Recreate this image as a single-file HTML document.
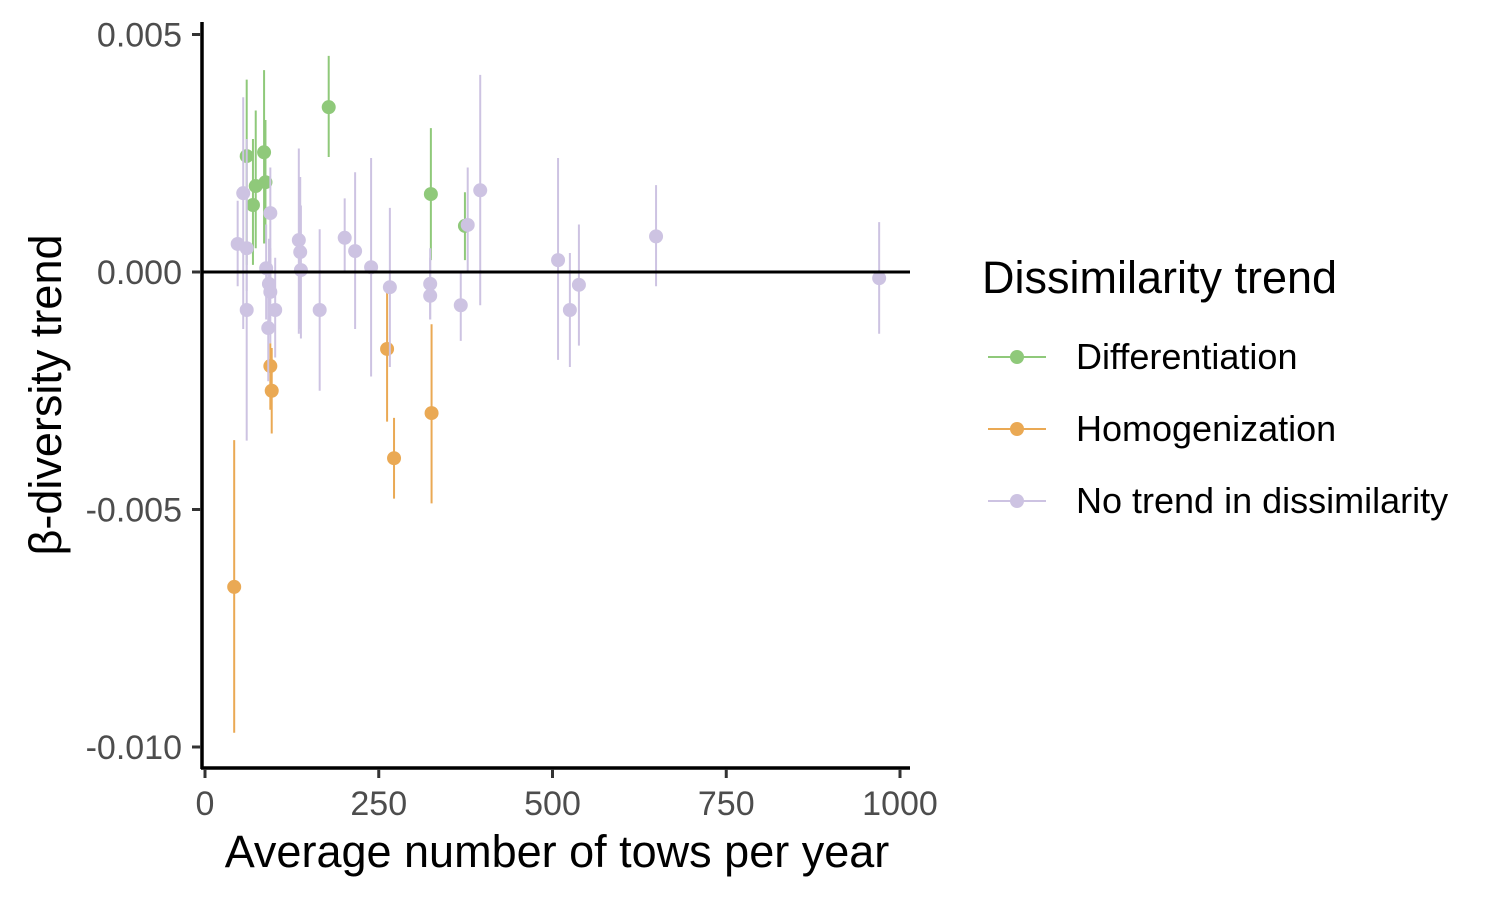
<!DOCTYPE html>
<html><head><meta charset="utf-8"><style>
body{margin:0;background:#fff;}
svg{display:block;font-family:"Liberation Sans",sans-serif;}
</style></head><body>
<svg id="chart" width="1500" height="900">
<g id="marks"></g>
<line x1="202" y1="272" x2="910" y2="272" stroke="#000" stroke-width="3"/>
<line x1="202" y1="22" x2="202" y2="769" stroke="#000" stroke-width="3.5"/>
<line x1="201" y1="768" x2="910" y2="768" stroke="#000" stroke-width="3.5"/>
<g id="yticks"></g>
<g id="xticks"></g>
<text x="557" y="867" font-size="45" text-anchor="middle" fill="#000">Average number of tows per year</text>
<text transform="translate(61,395) rotate(-90)" font-size="45" text-anchor="middle" fill="#000">β-diversity trend</text>
<g>
<text x="982" y="293" font-size="45" fill="#000">Dissimilarity trend</text>
<g><line x1="988" y1="357" x2="1046" y2="357" stroke="#8fc97a" stroke-width="2"/><circle cx="1017" cy="357" r="7" fill="#8fc97a"/><text x="1076" y="369" font-size="36">Differentiation</text></g>
<g><line x1="988" y1="429" x2="1046" y2="429" stroke="#eaa954" stroke-width="2"/><circle cx="1017" cy="429" r="7" fill="#eaa954"/><text x="1076" y="441" font-size="36">Homogenization</text></g>
<g><line x1="988" y1="501" x2="1046" y2="501" stroke="#cdc3e2" stroke-width="2"/><circle cx="1017" cy="501" r="7" fill="#cdc3e2"/><text x="1076" y="513" font-size="36">No trend in dissimilarity</text></g>
</g>
</svg>
<script>
// values in units of 1e-3
const diffX=[60,85,87,69,73,178,325,374];
const diffY=[2.44,2.52,1.89,1.41,1.81,3.47,1.64,0.97];
const diffLo=[0.15,0.6,0.6,0.15,0.5,2.42,0.25,0.25];
const diffHi=[4.05,4.25,3.2,2.8,3.4,4.55,3.03,1.68];
const homX=[42,94,96,262,272,326];
const homY=[-6.63,-1.98,-2.5,-1.62,-3.92,-2.97];
const homLo=[-9.7,-2.9,-3.4,-3.15,-4.77,-4.87];
const homHi=[-3.54,-1.5,-1.6,-0.4,-3.07,-1.1];
const noX=[55,47,60,60,94,88,92,94,91,101,135,137,138,165,201,216,239,266,324,324,368,378,396,508,525,538,649,970];
const noY=[1.66,0.59,0.5,-0.8,1.24,0.08,-0.25,-0.42,-1.18,-0.8,0.67,0.42,0.04,-0.8,0.72,0.44,0.1,-0.32,-0.25,-0.5,-0.7,0.99,1.72,0.25,-0.8,-0.27,0.75,-0.13];
const noLo=[-1.2,-0.3,-0.4,-3.55,-0.4,-1.0,-1.2,-1.5,-2.3,-1.8,-1.3,-1.2,-1.4,-2.5,0,-1.2,-2.2,-2.0,-1.0,-1.0,-1.45,0.0,-0.7,-1.85,-2.0,-1.55,-0.3,-1.3];
const noHi=[3.68,1.5,2.8,0.5,2.2,1.0,0.7,0.5,0.2,0.3,2.6,2.0,1.4,0.9,1.55,2.1,2.4,1.35,0.5,0.3,0,2.2,4.15,2.4,0.4,1.0,1.83,1.05];
const yTicks=[5,0,-5,-10];
const yTickLabels=["0.005","0.000","-0.005","-0.010"];
const xTicks=[0,250,500,750,1000];
const xTickLabels=["0","250","500","750","1000"];
const sx=v=>205+v*0.695;
const sy=v=>272-v*47.5;
const NS="http://www.w3.org/2000/svg";
function mk(tag,attrs,parent){const e=document.createElementNS(NS,tag);for(const k in attrs)e.setAttribute(k,attrs[k]);parent.appendChild(e);return e;}
const marks=document.getElementById('marks');
function series(X,Y,L,H,col,name){
  for(let i=0;i<X.length;i++){
    const l=mk('line',{x1:sx(X[i]),x2:sx(X[i]),y1:sy(L[i]),y2:sy(H[i]),stroke:col,'stroke-width':2},marks);
    
    
  }
  for(let i=0;i<X.length;i++){
    const c=mk('circle',{cx:sx(X[i]),cy:sy(Y[i]),r:7,fill:col},marks);
    
    
  }
}
series(diffX,diffY,diffLo,diffHi,'#8fc97a','differentiation');
series(homX,homY,homLo,homHi,'#eaa954','homogenization');
series(noX,noY,noLo,noHi,'#cdc3e2','no-trend');
const yt=document.getElementById('yticks');
yTicks.forEach((v,i)=>{
  const l=mk('line',{x1:192,x2:201,y1:sy(v),y2:sy(v),stroke:'#333','stroke-width':3},yt);
  
  
  const t=mk('text',{x:182,y:sy(v)+12,'font-size':34,'text-anchor':'end',fill:'#4d4d4d'},yt);
  t.textContent=yTickLabels[i];
  
  
});
const xt=document.getElementById('xticks');
xTicks.forEach((v,i)=>{
  const l=mk('line',{x1:sx(v),x2:sx(v),y1:769,y2:778,stroke:'#333','stroke-width':3},xt);
  
  
  const t=mk('text',{x:sx(v),y:815,'font-size':34,'text-anchor':'middle',fill:'#4d4d4d'},xt);
  t.textContent=xTickLabels[i];
  
  
});
</script>
</body></html>
